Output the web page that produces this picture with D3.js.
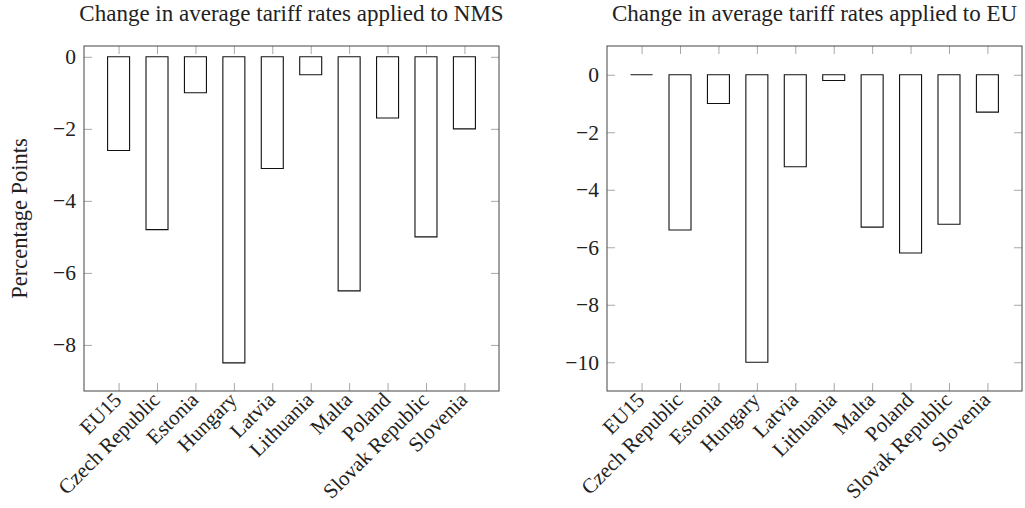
<!DOCTYPE html>
<html>
<head>
<meta charset="utf-8">
<script src="https://cdn.jsdelivr.net/npm/d3@7"></script>
<style>
  body { margin: 0; background: #fff; }
  text { font-family: "Liberation Serif", "DejaVu Serif", serif; fill: #222; }
</style>
</head>
<body>
<div id="chart"></div>
<script>
// categories and values
const countries = ['EU15', 'Czech Republic', 'Estonia', 'Hungary', 'Latvia',
    'Lithuania', 'Malta', 'Poland', 'Slovak Republic', 'Slovenia']
const nmsChange = [-2.6, -4.8, -1.0, -8.5, -3.1, -0.5, -6.5, -1.7, -5.0, -2.0]
const euChange = [0, -5.4, -1.0, -10, -3.2, -0.2, -5.3, -6.2, -5.2, -1.3]
const nmsTicks = [0, -2, -4, -6, -8]
const euTicks = [0, -2, -4, -6, -8, -10]

const width = 1025
const height = 508
const plotW = 415
const plotH = 345
const fontSize = 21.5

const svg = d3.select('#chart')
    .append('svg')
    .attr('width', width)
    .attr('height', height)

function drawPanel(left, top, title, values, yDomain, yTicks, yLabel) {
    const g = svg.append('g')
        .attr('transform', `translate(${left},${top})`)

    const x = d3.scaleLinear()
        .domain([-0.9, countries.length - 0.1])
        .range([0, plotW])
    const y = d3.scaleLinear()
        .domain(yDomain)
        .range([plotH, 0])
    const barW = 22

    // bars (paths so that a zero bar still shows as a line)
    g.selectAll('.bar')
        .data(values)
        .enter()
        .append('path')
        .attr('class', 'bar')
        .attr('d', (d, i) => {
            const x0 = x(i) - barW / 2
            const x1 = x(i) + barW / 2
            return `M${x0},${y(0)}V${y(d)}H${x1}V${y(0)}Z`
        })
        .attr('fill', 'white')
        .attr('stroke', '#111')
        .attr('stroke-width', 1.1)

    const idx = d3.range(countries.length)

    // inward ticks on all four sides
    const yAxis = d3.axisLeft(y).tickValues(yTicks).tickSize(-8).tickPadding(8)
        .tickFormat(d3.format('d'))
    const yAxisR = d3.axisRight(y).tickValues(yTicks).tickSize(-8).tickFormat('')
    const xAxis = d3.axisBottom(x).tickValues(idx).tickSize(-8).tickFormat('')
    const xAxisT = d3.axisTop(x).tickValues(idx).tickSize(-8).tickFormat('')

    g.append('g').attr('class', 'ax').call(yAxis)
    g.append('g').attr('class', 'ax').attr('transform', `translate(${plotW},0)`).call(yAxisR)
    g.append('g').attr('class', 'ax').attr('transform', `translate(0,${plotH})`).call(xAxis)
    g.append('g').attr('class', 'ax').call(xAxisT)

    g.selectAll('.ax .domain').remove()
    g.selectAll('.ax line').attr('stroke', '#a8a8a8')
    g.selectAll('.ax text')
        .style('font-family', '"Liberation Serif", serif')
        .style('font-size', fontSize + 'px')
        .attr('fill', '#222')

    // frame
    g.append('rect')
        .attr('width', plotW)
        .attr('height', plotH)
        .attr('fill', 'none')
        .attr('stroke', '#444')
        .attr('stroke-width', 1)

    // rotated category labels
    g.selectAll('.xlab')
        .data(countries)
        .enter()
        .append('text')
        .attr('class', 'xlab')
        .attr('transform', (d, i) => `translate(${x(i) - 1},${plotH + 5}) rotate(-45)`)
        .attr('text-anchor', 'end')
        .attr('dy', '0.35em')
        .style('font-size', '21px')
        .text(d => d)

    g.append('text')
        .attr('x', plotW / 2)
        .attr('y', -25)
        .attr('text-anchor', 'middle')
        .style('font-size', '23px')
        .text(title)

    if (yLabel) {
        g.append('text')
            .attr('transform', `translate(-57,${plotH / 2}) rotate(-90)`)
            .attr('text-anchor', 'middle')
            .style('font-size', '22.5px')
            .text(yLabel)
    }
}

drawPanel(84, 46, 'Change in average tariff rates applied to NMS', nmsChange,
    [-9.28, 0.3], nmsTicks, 'Percentage Points')
drawPanel(607, 46, 'Change in average tariff rates applied to EU', euChange,
    [-11, 1], euTicks, null)
</script>
</body>
</html>
